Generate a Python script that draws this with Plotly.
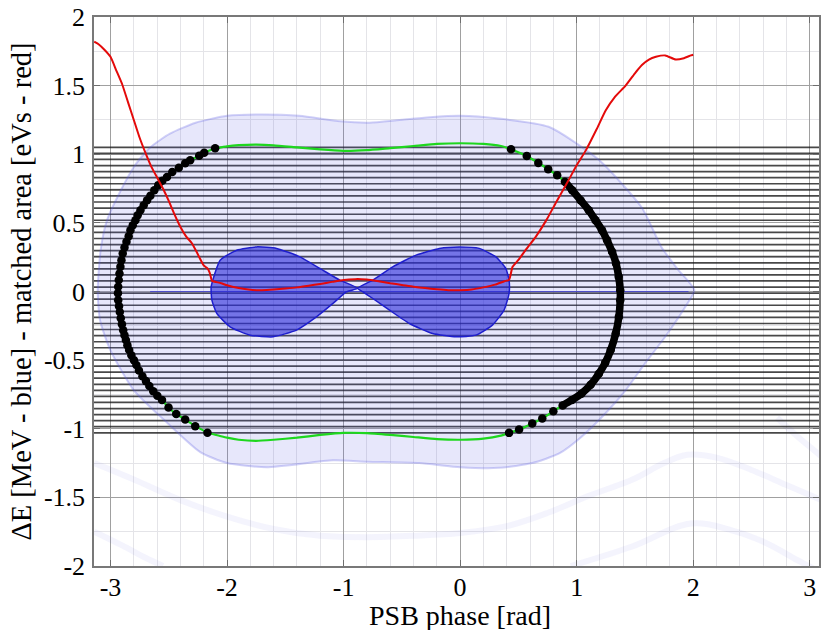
import plotly.graph_objects as go

# ---------------- axis ticks ----------------
x_tickvals = [-3, -2, -1, 0, 1, 2, 3]
x_ticktext = ["-3", "-2", "-1", "0", "1", "2", "3"]
y_tickvals = [2, 1.5, 1, 0.5, 0, -0.5, -1, -1.5, -2]
y_ticktext = ["2", "1.5", "1", "0.5", "0", "-0.5", "-1", "-1.5", "-2"]

PHASE_MIN, PHASE_MAX = -3.1416, 3.1416

# ---------------- rotating trajectories (constant dE levels, MeV) ----------------
level_de = [1.050, 1.006, 0.962, 0.917, 0.873, 0.829, 0.785, 0.740, 0.696, 0.652,
            0.608, 0.563, 0.519, 0.475, 0.431, 0.386, 0.342, 0.298, 0.254, 0.209,
            0.165, 0.121, 0.077, 0.032, -0.012, -0.056, -0.100, -0.145, -0.189, -0.233,
            -0.277, -0.322, -0.366, -0.410, -0.454, -0.499, -0.543, -0.587, -0.631, -0.676,
            -0.720, -0.764, -0.808, -0.853, -0.897, -0.941, -0.985, -1.030]

# ---------------- outer bucket boundary (blue, MeV) ----------------
outer_phase = [-3.11, -3.085, -3.03, -2.91, -2.79, -2.66, -2.49, -2.27, -2.0, -1.72,
               -1.38, -1.03, -0.78, -0.52, -0.26, 0.0, 0.33, 0.76, 1.19, 1.56,
               1.73, 1.87, 2.01, 1.93, 1.76, 1.59, 1.42, 1.25, 1.04, 0.85,
               0.62, 0.33, 0.0, -0.35, -0.80, -1.09, -1.66, -2.0, -2.23, -2.51,
               -2.80, -3.0, -3.09, -3.11]
outer_de = [0.0, 0.30, 0.52, 0.74, 0.92, 1.05, 1.15, 1.23, 1.28, 1.29,
            1.28, 1.24, 1.23, 1.25, 1.27, 1.28, 1.26, 1.20, 0.96, 0.61,
            0.32, 0.16, 0.01, -0.115, -0.33, -0.52, -0.72, -0.885, -1.06, -1.18,
            -1.25, -1.285, -1.28, -1.25, -1.24, -1.23, -1.28, -1.25, -1.17, -0.96,
            -0.72, -0.43, -0.21, 0.0]

# faint trajectories of neighbouring buckets
ghost1_phase = [-3.14, -2.8, -2.4, -2.0, -1.6, -1.2, -0.8, -0.4, 0.0, 0.4,
                0.76, 1.1, 1.48, 1.75, 1.95, 2.2, 2.5, 2.8, 3.1]
ghost1_de = [-1.25, -1.37, -1.52, -1.64, -1.73, -1.78, -1.79, -1.78, -1.76, -1.71,
             -1.61, -1.49, -1.37, -1.25, -1.19, -1.21, -1.30, -1.41, -1.52]
ghost2_phase = [-3.14, -2.9, -2.7, -2.55]
ghost2_de = [-1.75, -1.85, -1.94, -2.0]
ghost3_phase = [0.95, 1.47, 1.98, 2.33, 2.62, 2.9, 3.1]
ghost3_de = [-2.0, -1.86, -1.69, -1.74, -1.83, -1.96, -2.05]
ghost4_phase = [2.72, 2.9, 3.1]
ghost4_de = [-0.92, -1.06, -1.2]

# axis of the bucket
axis_phase = [-2.66, 1.96]
axis_de = [0.0, 0.0]

# ---------------- inner islands (blue, MeV) ----------------
left_lobe_phase = [-2.136, -2.059, -1.917, -1.746, -1.575, -1.375, -1.204, -1.033, -0.88,
                   -0.976, -1.091, -1.233, -1.404, -1.604, -1.803, -1.974, -2.088, -2.130, -2.136]
left_lobe_de = [0.034, 0.228, 0.301, 0.325, 0.314, 0.252, 0.168, 0.083, 0.024,
                -0.003, -0.087, -0.185, -0.281, -0.330, -0.318, -0.257, -0.160, -0.063, 0.034]
right_lobe_phase = [-0.88, -0.749, -0.578, -0.378, -0.178, -0.007, 0.164, 0.307, 0.392, 0.420,
                    0.420, 0.377, 0.277, 0.136, -0.035, -0.236, -0.435, -0.606, -0.749, -0.834, -0.88]
right_lobe_de = [0.024, 0.083, 0.180, 0.265, 0.314, 0.325, 0.314, 0.252, 0.168, 0.083,
                 -0.014, -0.136, -0.245, -0.318, -0.330, -0.306, -0.233, -0.136, -0.051, -0.003, 0.024]

# ---------------- matched contour (black points, green segments) ----------------
left_arc_phase = [-2.102, -2.196, -2.239, -2.316, -2.359, -2.414, -2.470, -2.515, -2.555, -2.590,
                  -2.624, -2.658, -2.686, -2.715, -2.743, -2.767, -2.786, -2.809, -2.829, -2.844,
                  -2.863, -2.880, -2.895, -2.906, -2.915, -2.923, -2.929, -2.934, -2.936, -2.934,
                  -2.927, -2.920, -2.912, -2.902, -2.891, -2.880, -2.868, -2.855, -2.840, -2.821,
                  -2.799, -2.778, -2.756, -2.726, -2.696, -2.667, -2.633, -2.598, -2.558, -2.502,
                  -2.436, -2.359, -2.273, -2.168]
left_arc_de = [1.044, 1.011, 0.989, 0.957, 0.935, 0.902, 0.870, 0.835, 0.807, 0.775,
               0.738, 0.697, 0.665, 0.629, 0.592, 0.556, 0.519, 0.483, 0.447, 0.403,
               0.362, 0.321, 0.277, 0.228, 0.180, 0.131, 0.083, 0.034, -0.012, -0.063,
               -0.107, -0.150, -0.194, -0.238, -0.282, -0.318, -0.354, -0.391, -0.427, -0.464,
               -0.500, -0.536, -0.576, -0.617, -0.653, -0.689, -0.726, -0.759, -0.791, -0.845,
               -0.893, -0.932, -0.981, -1.029]

right_top_phase = [0.437, 0.572, 0.671, 0.756, 0.833]
right_top_de = [1.037, 0.988, 0.937, 0.891, 0.847]
right_mid_phase = [0.899, 0.962, 1.033, 1.104, 1.162, 1.218, 1.261, 1.304, 1.338, 1.361,
                   1.374, 1.374, 1.362, 1.335, 1.292, 1.245, 1.19, 1.12, 1.04, 0.96, 0.88]
right_mid_de = [0.799, 0.738, 0.665, 0.592, 0.519, 0.446, 0.373, 0.289, 0.204, 0.107,
                0.010, -0.063, -0.185, -0.306, -0.427, -0.52, -0.60, -0.68, -0.745, -0.79, -0.83]
right_bot_phase = [0.80, 0.705, 0.619, 0.506, 0.420]
right_bot_de = [-0.872, -0.925, -0.961, -1.005, -1.030]

green_top_phase = [-2.10, -2.0, -1.9, -1.75, -1.6, -1.4, -1.2, -1.0, -0.8, -0.6,
                   -0.4, -0.2, 0.0, 0.2, 0.35, 0.437]
green_top_de = [1.044, 1.058, 1.066, 1.07, 1.065, 1.05, 1.035, 1.025, 1.03, 1.045,
                1.06, 1.075, 1.08, 1.075, 1.06, 1.037]
green_bot_phase = [-2.168, -2.0, -1.9, -1.75, -1.6, -1.4, -1.2, -1.0, -0.8, -0.6,
                   -0.4, -0.2, 0.0, 0.2, 0.35, 0.420]
green_bot_de = [-1.029, -1.065, -1.08, -1.088, -1.08, -1.065, -1.045, -1.03, -1.032, -1.045,
                -1.06, -1.075, -1.08, -1.072, -1.05, -1.030]

# ---------------- matched area (red, eVs) ----------------
red_phase = [-3.14, -3.10, -3.05, -3.0, -2.95, -2.9, -2.85, -2.8, -2.75, -2.7,
             -2.65, -2.6, -2.55, -2.5, -2.45, -2.4, -2.35, -2.3, -2.25, -2.2,
             -2.17, -2.15, -2.13, -2.12, -2.05, -2.0, -1.9, -1.8, -1.75, -1.7,
             -1.6, -1.5, -1.4, -1.3, -1.2, -1.1, -1.0, -0.9, -0.85, -0.8,
             -0.7, -0.6, -0.5, -0.4, -0.3, -0.2, -0.1, 0.0, 0.1, 0.2,
             0.3, 0.38, 0.42, 0.45, 0.5, 0.56, 0.65, 0.74, 0.83, 0.93,
             1.0, 1.08, 1.17, 1.25, 1.33, 1.42, 1.5, 1.56, 1.62, 1.68,
             1.76, 1.85, 1.92, 1.98, 2.0]
red_area = [1.82, 1.80, 1.76, 1.71, 1.61, 1.51, 1.38, 1.25, 1.12, 1.01,
            0.91, 0.83, 0.75, 0.66, 0.56, 0.47, 0.40, 0.35, 0.27, 0.19,
            0.17, 0.14, 0.08, 0.075, 0.06, 0.045, 0.025, 0.012, 0.01, 0.01,
            0.015, 0.022, 0.03, 0.042, 0.055, 0.07, 0.084, 0.09, 0.09, 0.088,
            0.075, 0.06, 0.048, 0.035, 0.025, 0.016, 0.01, 0.01, 0.015, 0.03,
            0.05, 0.075, 0.085, 0.18, 0.23, 0.30, 0.40, 0.52, 0.66, 0.81,
            0.92, 1.03, 1.18, 1.32, 1.42, 1.50, 1.59, 1.65, 1.69, 1.71,
            1.72, 1.69, 1.70, 1.72, 1.725]

fig = go.Figure()

# faint neighbouring trajectories
for gx, gy in [(ghost1_phase, ghost1_de), (ghost2_phase, ghost2_de),
               (ghost3_phase, ghost3_de), (ghost4_phase, ghost4_de)]:
    fig.add_trace(go.Scatter(x=gx, y=gy, mode="lines",
                             line=dict(color="rgba(110,110,230,0.075)", width=6, shape="spline"),
                             hoverinfo="skip"))

# horizontal trajectories
lx, ly = [], []
for e in level_de:
    lx += [PHASE_MIN, PHASE_MAX, None]
    ly += [e, e, None]
fig.add_trace(go.Scatter(x=lx, y=ly, mode="lines", line=dict(color="rgba(20,20,20,0.78)", width=1.7),
                         hoverinfo="skip"))

# outer bucket
fig.add_trace(go.Scatter(x=outer_phase, y=outer_de, mode="lines", fill="toself",
                         fillcolor="rgba(95,95,230,0.15)",
                         line=dict(color="rgba(90,90,225,0.28)", width=2, shape="spline", smoothing=0.6),
                         hoverinfo="skip"))

# bucket axis
fig.add_trace(go.Scatter(x=axis_phase, y=axis_de, mode="lines",
                         line=dict(color="rgba(40,40,220,0.65)", width=1.2), hoverinfo="skip"))

# islands
for px_, py_ in [(left_lobe_phase, left_lobe_de), (right_lobe_phase, right_lobe_de)]:
    fig.add_trace(go.Scatter(x=px_, y=py_, mode="lines", fill="toself",
                             fillcolor="rgba(40,40,218,0.6)",
                             line=dict(color="rgb(30,30,205)", width=1.5, shape="spline", smoothing=0.5),
                             hoverinfo="skip"))

# green contour along the whole matched boundary
loop_x = (green_top_phase + right_top_phase + right_mid_phase + right_bot_phase
          + green_bot_phase[::-1] + left_arc_phase[::-1])
loop_y = (green_top_de + right_top_de + right_mid_de + right_bot_de
          + green_bot_de[::-1] + left_arc_de[::-1])
fig.add_trace(go.Scatter(x=loop_x, y=loop_y, mode="lines",
                         line=dict(color="rgb(30,215,30)", width=2.2, shape="spline", smoothing=0.4),
                         hoverinfo="skip"))

# black matched points
fig.add_trace(go.Scatter(x=right_mid_phase, y=right_mid_de, mode="lines",
                         line=dict(color="black", width=7.5, shape="spline"), hoverinfo="skip"))
fig.add_trace(go.Scatter(x=left_arc_phase + right_top_phase + right_mid_phase + right_bot_phase,
                         y=left_arc_de + right_top_de + right_mid_de + right_bot_de,
                         mode="markers", marker=dict(color="black", size=8.5, line=dict(width=0)),
                         hoverinfo="skip"))

# matched area
fig.add_trace(go.Scatter(x=red_phase, y=red_area, mode="lines",
                         line=dict(color="rgb(228,10,10)", width=2, shape="spline", smoothing=0.5),
                         hoverinfo="skip"))

font_family = "Liberation Serif, Times New Roman, serif"
tick_font = dict(family=font_family, size=26, color="black")
fig.update_layout(
    width=821, height=630,
    margin=dict(l=94, r=0, t=17, b=64),
    paper_bgcolor="white", plot_bgcolor="white",
    showlegend=False,
    font=dict(family=font_family, size=26, color="black"),
    annotations=[dict(text="PSB phase [rad]", xref="x", yref="paper",
                      x=0, y=-0.091,
                      xanchor="center", yanchor="middle", showarrow=False,
                      font=dict(family=font_family, size=28, color="black"))],
)
fig.update_xaxes(
    range=[-3.1416, 3.0795], tickvals=x_tickvals, ticktext=x_ticktext, tickfont=tick_font,
    ticks="inside", ticklen=6, tickcolor="rgb(110,110,110)",
    showline=True, linecolor="rgb(120,120,120)", linewidth=1.5, mirror="ticks",
    showgrid=True, gridcolor="rgb(160,160,160)", gridwidth=1, zeroline=False,
    minor=dict(dtick=0.2, tick0=0, showgrid=True, gridcolor="rgb(228,228,232)"),
    ticklabelstandoff=-3,
)
fig.update_yaxes(
    range=[-2, 2], tickvals=y_tickvals, ticktext=y_ticktext, tickfont=tick_font,
    ticks="inside", ticklen=6, tickcolor="rgb(110,110,110)",
    showline=True, linecolor="rgb(120,120,120)", linewidth=1.5, mirror="ticks",
    showgrid=True, gridcolor="rgb(160,160,160)", gridwidth=1, zeroline=False,
    minor=dict(dtick=0.25, tick0=0, showgrid=True, gridcolor="rgb(228,228,232)"),
    ticklabelstandoff=2,
    title=dict(text="ΔE [MeV - blue] - matched area [eVs - red]",
               font=dict(family=font_family, size=28.5), standoff=4),
)

fig.write_html("out.html")
